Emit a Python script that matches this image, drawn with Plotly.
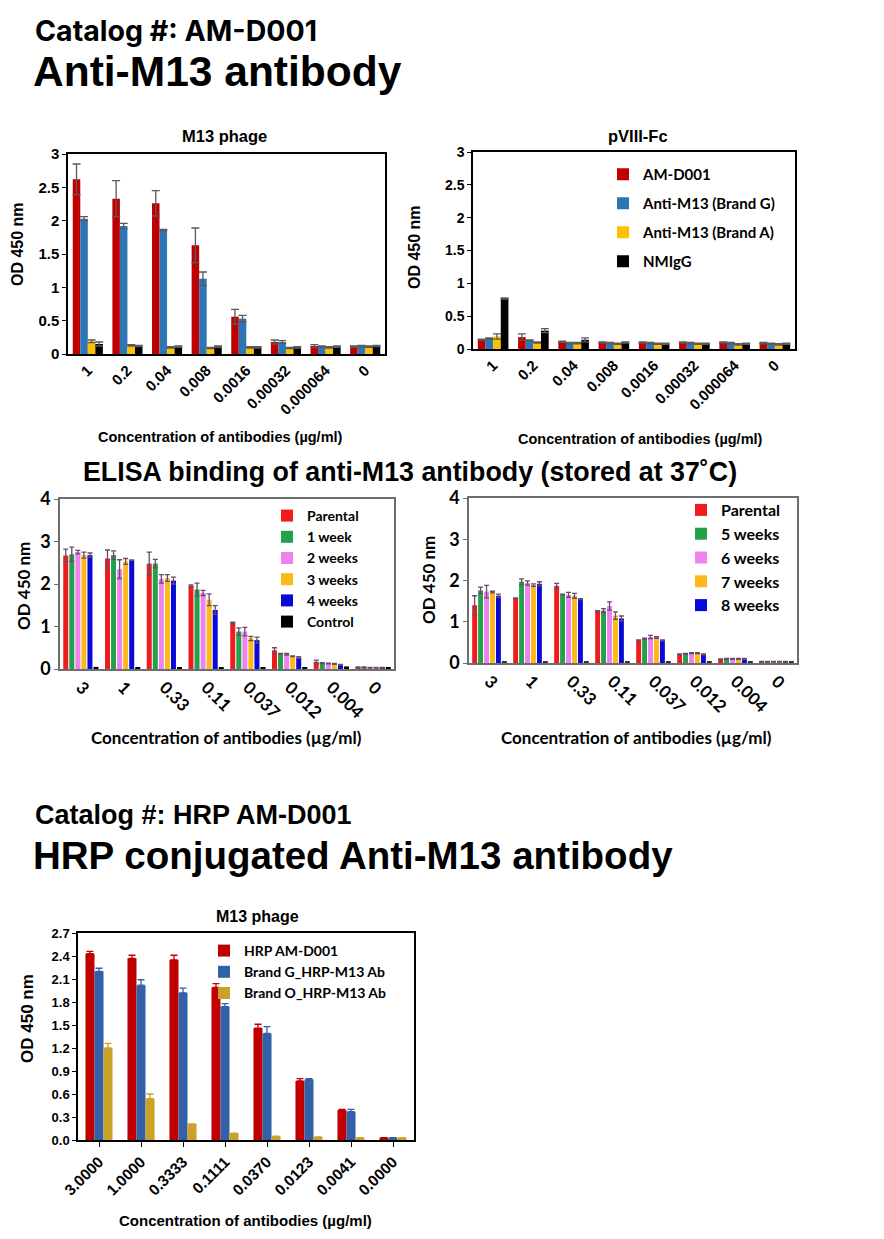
import plotly.graph_objects as go

W, H = 884, 1239
OFF = 8  # default page body margin of the html page
FW, FH = W - 2 * OFF, H - 2 * OFF

# ---------------- Data ----------------
# Top-left: M13 phage
m13_conc = ["1", "0.2", "0.04", "0.008", "0.0016", "0.00032", "0.000064", "0"]
m13_amd001 = [2.62, 2.33, 2.26, 1.63, 0.56, 0.18, 0.12, 0.11]
m13_amd001_err = [0.23, 0.27, 0.19, 0.26, 0.11, 0.03, 0.02, 0.01]
m13_brandG = [2.03, 1.92, 1.86, 1.13, 0.53, 0.18, 0.11, 0.12]
m13_brandG_err = [0.03, 0.04, 0.01, 0.10, 0.05, 0.02, 0.01, 0.01]
m13_brandA = [0.19, 0.13, 0.10, 0.09, 0.10, 0.09, 0.10, 0.11]
m13_brandA_err = [0.02, 0.01, 0.01, 0.01, 0.01, 0.01, 0.01, 0.01]
m13_nmigg = [0.15, 0.12, 0.11, 0.11, 0.10, 0.10, 0.11, 0.12]
m13_nmigg_err = [0.03, 0.01, 0.01, 0.01, 0.01, 0.01, 0.01, 0.01]

# Top-right: pVIII-Fc
pv_conc = ["1", "0.2", "0.04", "0.008", "0.0016", "0.00032", "0.000064", "0"]
pv_amd001 = [0.14, 0.18, 0.11, 0.10, 0.10, 0.10, 0.10, 0.09]
pv_amd001_err = [0.01, 0.05, 0.01, 0.01, 0.01, 0.01, 0.01, 0.01]
pv_brandG = [0.16, 0.13, 0.09, 0.09, 0.09, 0.09, 0.09, 0.08]
pv_brandG_err = [0.01, 0.01, 0.01, 0.01, 0.01, 0.01, 0.01, 0.01]
pv_brandA = [0.19, 0.10, 0.09, 0.08, 0.08, 0.08, 0.07, 0.07]
pv_brandA_err = [0.04, 0.01, 0.01, 0.01, 0.01, 0.01, 0.01, 0.01]
pv_nmigg = [0.77, 0.28, 0.14, 0.10, 0.08, 0.08, 0.08, 0.08]
pv_nmigg_err = [0.01, 0.03, 0.03, 0.01, 0.01, 0.01, 0.01, 0.01]

# Middle-left: stability 1-4 weeks
st_conc = ["3", "1", "0.33", "0.11", "0.037", "0.012", "0.004", "0"]
sa_parental = [2.67, 2.60, 2.48, 1.96, 1.08, 0.44, 0.17, 0.04]
sa_parental_err = [0.15, 0.20, 0.27, 0.02, 0.02, 0.06, 0.04, 0.01]
sa_w1 = [2.70, 2.68, 2.48, 1.87, 0.88, 0.36, 0.14, 0.04]
sa_w1_err = [0.17, 0.10, 0.10, 0.15, 0.09, 0.01, 0.01, 0.01]
sa_w2 = [2.75, 2.35, 2.12, 1.79, 0.88, 0.35, 0.13, 0.03]
sa_w2_err = [0.04, 0.22, 0.10, 0.06, 0.10, 0.02, 0.01, 0.01]
sa_w3 = [2.68, 2.53, 2.14, 1.63, 0.72, 0.30, 0.12, 0.03]
sa_w3_err = [0.07, 0.07, 0.08, 0.14, 0.05, 0.01, 0.01, 0.01]
sa_w4 = [2.68, 2.56, 2.08, 1.39, 0.68, 0.27, 0.10, 0.03]
sa_w4_err = [0.05, 0.01, 0.08, 0.10, 0.07, 0.02, 0.01, 0.01]
sa_control = [0.05, 0.04, 0.04, 0.04, 0.04, 0.04, 0.06, 0.04]

# Middle-right: stability 5-8 weeks
sb_parental = [1.40, 1.57, 1.87, 1.26, 0.55, 0.21, 0.09, 0.03]
sb_parental_err = [0.23, 0.01, 0.06, 0.01, 0.01, 0.01, 0.01, 0.01]
sb_w5 = [1.76, 1.97, 1.66, 1.27, 0.59, 0.22, 0.10, 0.03]
sb_w5_err = [0.08, 0.07, 0.01, 0.05, 0.01, 0.01, 0.01, 0.01]
sb_w6 = [1.73, 1.94, 1.65, 1.38, 0.63, 0.24, 0.10, 0.03]
sb_w6_err = [0.15, 0.05, 0.06, 0.10, 0.04, 0.01, 0.01, 0.01]
sb_w7 = [1.72, 1.89, 1.63, 1.15, 0.62, 0.24, 0.10, 0.03]
sb_w7_err = [0.02, 0.03, 0.06, 0.09, 0.02, 0.01, 0.01, 0.01]
sb_w8 = [1.63, 1.92, 1.55, 1.08, 0.55, 0.21, 0.10, 0.03]
sb_w8_err = [0.04, 0.05, 0.01, 0.06, 0.01, 0.01, 0.01, 0.01]
sb_control = [0.03, 0.03, 0.03, 0.03, 0.03, 0.03, 0.03, 0.03]

# Bottom: HRP conjugated, M13 phage
hrp_conc = ["3.0000", "1.0000", "0.3333", "0.1111", "0.0370", "0.0123", "0.0041", "0.0000"]
hrp_amd001 = [2.43, 2.37, 2.35, 1.99, 1.46, 0.77, 0.39, 0.03]
hrp_amd001_err = [0.03, 0.04, 0.06, 0.05, 0.05, 0.03, 0.01, 0.00]
hrp_brandG = [2.20, 2.02, 1.92, 1.74, 1.39, 0.79, 0.37, 0.03]
hrp_brandG_err = [0.04, 0.07, 0.06, 0.04, 0.09, 0.01, 0.03, 0.00]
hrp_brandO = [1.20, 0.54, 0.21, 0.09, 0.05, 0.04, 0.03, 0.03]
hrp_brandO_err = [0.06, 0.06, 0.00, 0.00, 0.00, 0.00, 0.00, 0.00]

# ---------------- Helpers ----------------
ARIAL = "Liberation Sans, Arial, sans-serif"
CALI = "Lato, Carlito, Calibri, sans-serif"


def px_x(p):
    return (p - OFF) / FW


def px_y(p):
    return 1 - (p - OFF) / FH


def xd(a, b):
    return [px_x(a), px_x(b)]


def yd(top, bottom):
    return [px_y(bottom), px_y(top)]


fig = go.Figure()


def add_group(xname, yname, cats, series, bw, step, legend=None, err_color=None,
              err_up_only=False, err_width=3, hide=()):
    n = len(series)
    group = (n - 1) * step + bw
    for i, (name, vals, errs, color) in enumerate(series):
        ekw = None
        if errs is not None:
            ec = err_color if err_color else color
            if err_up_only:
                ekw = dict(type="data", array=errs, arrayminus=[0] * len(errs), symmetric=False,
                           color=ec, thickness=1.3, width=err_width)
            else:
                ekw = dict(type="data", array=errs, symmetric=True, color=ec,
                           thickness=1.3, width=err_width)
        show = legend is not None and name not in hide
        fig.add_trace(go.Bar(
            x=cats, y=vals, name=name, marker=dict(color=color, line=dict(width=0)),
            width=bw, offset=-group / 2 + i * step,
            error_y=ekw, xaxis=xname, yaxis=yname,
            showlegend=show, legend=legend if legend else "legend",
            legendgroup=(legend or "none") + name,
        ))


C_RED = "#C00000"
C_BLUE = "#2E75B6"
C_GOLD = "#FFC000"
C_BLACK = "#000000"

add_group("x", "y", m13_conc, [
    ("AM-D001", m13_amd001, m13_amd001_err, C_RED),
    ("Anti-M13 (Brand G)", m13_brandG, m13_brandG_err, C_BLUE),
    ("Anti-M13 (Brand A)", m13_brandA, m13_brandA_err, C_GOLD),
    ("NMIgG", m13_nmigg, m13_nmigg_err, C_BLACK),
], bw=0.19, step=0.19, legend=None, err_color="#5a5a5a", err_width=4)

add_group("x2", "y2", pv_conc, [
    ("AM-D001", pv_amd001, pv_amd001_err, C_RED),
    ("Anti-M13 (Brand G)", pv_brandG, pv_brandG_err, C_BLUE),
    ("Anti-M13 (Brand A)", pv_brandA, pv_brandA_err, C_GOLD),
    ("NMIgG", pv_nmigg, pv_nmigg_err, C_BLACK),
], bw=0.19, step=0.19, legend="legend", err_color="#5a5a5a", err_width=4)

S_RED = "#EE1C1C"
S_GREEN = "#22A04B"
S_PINK = "#EE82EE"
S_GOLD = "#FBBA1A"
S_BLUE = "#0A0AD8"

add_group("x3", "y3", st_conc, [
    ("Parental", sa_parental, sa_parental_err, S_RED),
    ("1 week", sa_w1, sa_w1_err, S_GREEN),
    ("2 weeks", sa_w2, sa_w2_err, S_PINK),
    ("3 weeks", sa_w3, sa_w3_err, S_GOLD),
    ("4 weeks", sa_w4, sa_w4_err, S_BLUE),
    ("Control", sa_control, None, C_BLACK),
], bw=0.12, step=0.145, legend="legend2", err_color="#6a4a6a", err_width=2.5)

add_group("x4", "y4", st_conc, [
    ("Parental", sb_parental, sb_parental_err, S_RED),
    ("5 weeks", sb_w5, sb_w5_err, S_GREEN),
    ("6 weeks", sb_w6, sb_w6_err, S_PINK),
    ("7 weeks", sb_w7, sb_w7_err, S_GOLD),
    ("8 weeks", sb_w8, sb_w8_err, S_BLUE),
    ("Control", sb_control, None, "#333333"),
], bw=0.12, step=0.145, legend="legend3", err_color="#6a4a6a", err_width=2.5,
    hide=("Control",))

add_group("x5", "y5", hrp_conc, [
    ("HRP AM-D001", hrp_amd001, hrp_amd001_err, "#C00000"),
    ("Brand G_HRP-M13 Ab", hrp_brandG, hrp_brandG_err, "#3361A8"),
    ("Brand O_HRP-M13 Ab", hrp_brandO, hrp_brandO_err, "#C9A227"),
], bw=0.215, step=0.215, legend="legend4", err_up_only=True, err_width=3.5)

# ---------------- Axes ----------------
def xaxis(dom, anchor, angle, font, size, linecolor="#000", ticks="", lw=1.5):
    return dict(domain=dom, anchor=anchor, type="category", range=[-0.5, 7.5],
                automargin=False,
                showline=True, linecolor=linecolor, linewidth=lw, mirror=True,
                ticks=ticks, ticklen=5, tickcolor=linecolor, showgrid=False, zeroline=False,
                tickangle=angle, tickfont=dict(family=font, size=size, color="#000", weight="bold"),
                fixedrange=True)


def yaxis(dom, anchor, rng, dtick, font, size, linecolor="#000", lw=1.5, fmt=None):
    d = dict(domain=dom, anchor=anchor, range=rng, dtick=dtick, tick0=0,
             automargin=False,
             showline=True, linecolor=linecolor, linewidth=lw, mirror=True,
             ticks="outside", ticklen=4, tickcolor=linecolor, showgrid=False, zeroline=False,
             tickfont=dict(family=font, size=size, color="#000", weight="bold"),
             fixedrange=True)
    if fmt:
        d["tickformat"] = fmt
    return d


fig.update_layout(
    template="none",
    xaxis=xaxis(xd(68, 385), "y", -45, ARIAL, 15),
    yaxis=yaxis(yd(154, 354), "x", [0, 3], 0.5, ARIAL, 15),
    xaxis2=xaxis(xd(473, 795), "y2", -45, ARIAL, 15),
    yaxis2=yaxis(yd(152, 349), "x2", [0, 3], 0.5, ARIAL, 14),
    xaxis3=xaxis(xd(60, 394), "y3", 45, CALI, 17, linecolor="#6e6e6e", lw=1.5),
    yaxis3=yaxis(yd(499, 669), "x3", [0, 4], 1, CALI, 18, linecolor="#6e6e6e"),
    xaxis4=xaxis(xd(469, 797), "y4", 45, CALI, 17, linecolor="#6e6e6e", lw=1.5),
    yaxis4=yaxis(yd(498, 663), "x4", [0, 4], 1, CALI, 18, linecolor="#6e6e6e"),
    xaxis5=xaxis(xd(78, 414), "y5", -45, ARIAL, 15.5, ticks="outside"),
    yaxis5=yaxis(yd(933, 1140), "x5", [0, 2.7], 0.3, ARIAL, 13, fmt=".1f"),
)

# ---------------- Legends ----------------
def legend(xpx, ypx, size, gap):
    return dict(x=px_x(xpx), y=px_y(ypx), xanchor="left", yanchor="top", xref="paper", yref="paper",
                bgcolor="rgba(0,0,0,0)", borderwidth=0, tracegroupgap=gap, traceorder="grouped",
                font=dict(family=CALI, size=size, color="#000", weight="bold"),
                itemclick=False, itemdoubleclick=False)


fig.update_layout(
    legend=legend(603, 158, 15, 6.5),
    legend2=legend(267, 500, 14, 0),
    legend3=legend(681, 493, 16, 0),
    legend4=legend(204, 935, 14, 0),
)

# ---------------- Text ----------------
anns = []


def ann(text, xpx, ypx, size, family=ARIAL, angle=0, xanchor="center"):
    anns.append(dict(text=text, x=px_x(xpx), y=px_y(ypx), xref="paper", yref="paper",
                     xanchor=xanchor, yanchor="middle", showarrow=False, textangle=angle,
                     font=dict(family=family, size=size, color="#000", weight="bold")))


ann("Catalog #: AM-D001", 33, 31, 28.5, family="Inter, Open Sans, sans-serif", xanchor="left")
ann("Anti-M13 antibody", 31, 71, 42.5, xanchor="left")
ann("M13 phage", 224, 136, 16.5)
ann("pVIII-Fc", 638, 136, 16.5)
ann("OD 450 nm", 18, 244, 16, angle=-90)
ann("OD 450 nm", 415, 247, 16, angle=-90)
ann("Concentration of antibodies (µg/ml)", 220, 437, 14.5)
ann("Concentration of antibodies (µg/ml)", 640, 439, 14.5)

ann("ELISA binding of anti-M13 antibody (stored at 37˚C)", 410, 472, 26.8)
ann("OD 450 nm", 24, 586, 17, family=CALI, angle=-90)
ann("OD 450 nm", 428, 580, 17, family=CALI, angle=-90)
ann("Concentration of antibodies (µg/ml)", 226, 737, 17, family=CALI)
ann("Concentration of antibodies (µg/ml)", 636, 737, 17, family=CALI)

ann("Catalog #: HRP AM-D001", 33, 815, 27, family="Liberation Sans Narrow, Arial Narrow, Liberation Sans", xanchor="left")
ann("HRP conjugated Anti-M13 antibody", 31, 855, 38.5, family="Liberation Sans Narrow, Arial Narrow, Liberation Sans", xanchor="left")
ann("M13 phage", 258, 916, 16)
ann("OD 450 nm", 27, 1019, 17, angle=-90)
ann("Concentration of antibodies (µg/ml)", 246, 1220, 15)

fig.update_layout(
    annotations=anns,
    width=FW, height=FH,
    margin=dict(l=0, r=0, t=0, b=0, pad=0),
    paper_bgcolor="white", plot_bgcolor="white",
    barmode="group",
    font=dict(family=ARIAL, color="#000"),
)

fig.write_html("out.html", config=dict(displayModeBar=False))
